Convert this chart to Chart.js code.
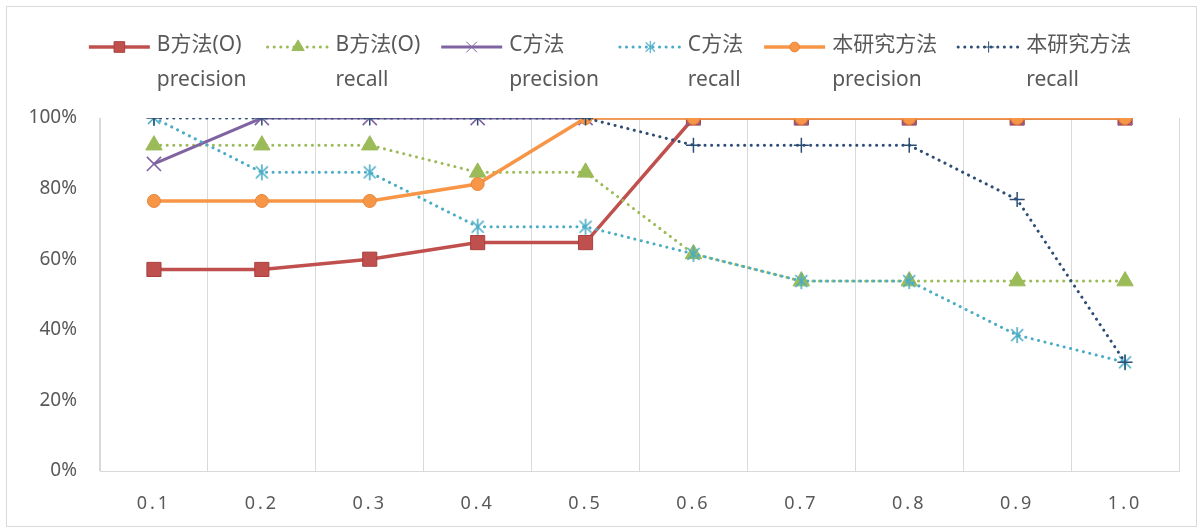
<!DOCTYPE html>
<html>
<head>
<meta charset="utf-8">
<script src="https://cdn.jsdelivr.net/npm/chart.js@4/dist/chart.umd.min.js"></script>
<style>
  html, body { margin: 0; padding: 0; background: #fff; }
  #wrap { width: 1203px; height: 530px; }
</style>
</head>
<body>
<div id="wrap"><canvas id="chart" width="1203" height="530"></canvas></div>
<script>
// data (percent)
var categories = ["0.1", "0.2", "0.3", "0.4", "0.5", "0.6", "0.7", "0.8", "0.9", "1.0"];
var bPrecision = [57.1, 57.1, 60.0, 64.7, 64.7, 100, 100, 100, 100, 100];
var bRecall = [92.3, 92.3, 92.3, 84.6, 84.6, 61.5, 53.8, 53.8, 53.8, 53.8];
var cPrecision = [87.0, 100, 100, 100, 100, 100, 100, 100, 100, 100];
var cRecall = [100, 84.6, 84.6, 69.2, 69.2, 61.5, 53.8, 53.8, 38.5, 30.8];
var oursPrecision = [76.5, 76.5, 76.5, 81.3, 100, 100, 100, 100, 100, 100];
var oursRecall = [100, 100, 100, 100, 100, 92.3, 92.3, 92.3, 76.9, 30.8];
var yTickLabels = ["0%", "20%", "40%", "60%", "80%", "100%"];
var seriesLabels = [
  ["B方法(O)", "precision"],
  ["B方法(O)", "recall"],
  ["C方法", "precision"],
  ["C方法", "recall"],
  ["本研究方法", "precision"],
  ["本研究方法", "recall"]
];

var FONT = '"Noto Sans", "Noto Sans CJK SC", sans-serif';
var TEXT_COLOR = "#595959";
var GRID_COLOR = "#d9d9d9";

// Excel style asterisk marker (vertical bar + X)
function asteriskMarker(color) {
  var c = document.createElement("canvas");
  c.width = 18; c.height = 18;
  var g = c.getContext("2d");
  g.strokeStyle = color;
  g.lineWidth = 1.6;
  g.beginPath();
  g.moveTo(9, 1); g.lineTo(9, 17);
  g.moveTo(3, 3); g.lineTo(15, 15);
  g.moveTo(15, 3); g.lineTo(3, 15);
  g.stroke();
  return c;
}

function dataset(i, data, color, opts) {
  var ds = {
    label: seriesLabels[i].join(" "),
    data: data,
    borderColor: color,
    backgroundColor: color,
    borderWidth: 3.5,
    pointBorderColor: color,
    pointBackgroundColor: color,
    pointBorderWidth: 1,
    pointRadius: 7,
    pointHoverRadius: 7,
    tension: 0,
    fill: false,
    order: 6 - i
  };
  for (var k in opts) ds[k] = opts[k];
  return ds;
}

var dotted = { borderDash: [0.1, 6.5], borderCapStyle: "round", borderWidth: 3 };

var datasets = [
  dataset(0, bPrecision, "#C0504D", { pointStyle: "rect", pointRadius: 10, pointBorderColor: "#A8413E" }),
  dataset(1, bRecall, "#9BBB59", Object.assign({ pointStyle: "triangle", pointRadius: 9.5 }, dotted)),
  dataset(2, cPrecision, "#8064A2", { pointStyle: "crossRot", pointRadius: 10, pointBorderWidth: 1.6, borderWidth: 3 }),
  dataset(3, cRecall, "#4BACC6", Object.assign({ pointStyle: asteriskMarker("#4BACC6") }, dotted)),
  dataset(4, oursPrecision, "#F79646", { pointStyle: "circle", pointRadius: 6.5, pointBorderColor: "#E8853A" }),
  dataset(5, oursRecall, "#2C4D75", Object.assign({ pointStyle: "cross", pointRadius: 7.5, pointBorderWidth: 1.5 }, dotted))
];

// outer frame like the Excel chart area, and spaced x labels
var framePlugin = {
  id: "frame",
  beforeDraw: function (chart) {
    var ctx = chart.ctx;
    ctx.save();
    ctx.fillStyle = "#fff";
    ctx.fillRect(0, 0, chart.width, chart.height);
    ctx.strokeStyle = GRID_COLOR;
    ctx.lineWidth = 1;
    ctx.strokeRect(6.5, 6.5, chart.width - 13, chart.height - 10);
    ctx.restore();
    var sx = chart.scales.x;
    if (sx && !sx._spaced) {
      var orig = sx.drawLabels;
      sx.drawLabels = function (area) {
        this.ctx.save();
        this.ctx.letterSpacing = "3px";
        orig.call(this, area);
        this.ctx.restore();
      };
      sx._spaced = true;
    }
  }
};

// legend drawn as line + marker with two-line label, left aligned
var legendPlugin = {
  id: "twoLineLegend",
  afterDraw: function (chart) {
    var ctx = chart.ctx;
    var symW = 65, symGap = 5, itemGap = 19;
    var row1 = 45, row2 = 80, symY = 47;
    ctx.save();
    ctx.font = "21px " + FONT;
    var widths = seriesLabels.map(function (l) {
      return Math.max(ctx.measureText(l[0]).width, ctx.measureText(l[1]).width);
    });
    var total = 0;
    widths.forEach(function (w, i) { total += symW + symGap + w + (i < widths.length - 1 ? itemGap : 0); });
    var x = 609 - total / 2;
    chart.data.datasets.forEach(function (ds, i) {
      ctx.save();
      ctx.strokeStyle = ds.borderColor;
      ctx.lineWidth = ds.borderWidth;
      ctx.lineCap = ds.borderCapStyle || "butt";
      ctx.setLineDash(ds.borderDash || []);
      ctx.beginPath();
      ctx.moveTo(x + 2, symY);
      ctx.lineTo(x + symW - 2, symY);
      ctx.stroke();
      ctx.restore();
      ctx.save();
      ctx.strokeStyle = ds.pointBorderColor;
      ctx.fillStyle = ds.pointBackgroundColor;
      var r = ds.pointRadius * 0.75;
      if (typeof ds.pointStyle !== "string") {
        ctx.drawImage(ds.pointStyle, x + symW / 2 - 7, symY - 7, 14, 14);
      } else {
        Chart.helpers.drawPoint(ctx, { pointStyle: ds.pointStyle, radius: r, rotation: 0, borderWidth: ds.pointBorderWidth }, x + symW / 2, symY);
      }
      ctx.restore();
      var tx = x + symW + symGap;
      ctx.fillStyle = TEXT_COLOR;
      ctx.textBaseline = "middle";
      ctx.textAlign = "left";
      ctx.fillText(seriesLabels[i][0], tx, row1);
      ctx.fillText(seriesLabels[i][1], tx, row2);
      x = tx + widths[i] + itemGap;
    });
    ctx.restore();
  }
};

new Chart(document.getElementById("chart"), {
  type: "line",
  data: { labels: categories, datasets: datasets },
  plugins: [framePlugin, legendPlugin],
  options: {
    responsive: false,
    animation: false,
    events: [],
    layout: { padding: { top: 118, right: 24, bottom: 0, left: 0 } },
    plugins: { legend: { display: false }, tooltip: { enabled: false } },
    scales: {
      x: {
        offset: true,
        grid: { display: true, offset: true, color: GRID_COLOR, drawTicks: false },
        border: { display: true, color: GRID_COLOR },
        ticks: { color: TEXT_COLOR, font: { family: FONT, size: 18 }, padding: 22 },
        afterFit: function (s) { s.height = 59; }
      },
      y: {
        min: 0,
        max: 100,
        ticks: {
          stepSize: 20,
          color: TEXT_COLOR,
          font: { family: FONT, size: 19 },
          padding: 23,
          callback: function (v, idx) { return yTickLabels[idx]; }
        },
        grid: { display: false, drawTicks: false },
        border: { display: true, color: GRID_COLOR },
        afterFit: function (s) { s.width = 100; }
      }
    }
  }
});
</script>
</body>
</html>
